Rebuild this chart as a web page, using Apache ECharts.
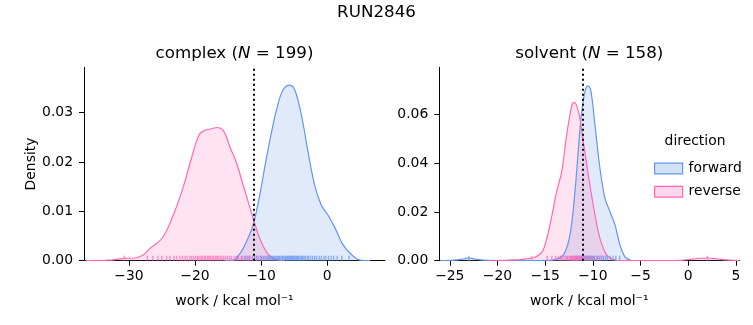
<!DOCTYPE html>
<html>
<head>
<meta charset="utf-8">
<script src="https://cdn.jsdelivr.net/npm/echarts@6/dist/echarts.min.js"></script>
<style>html,body{margin:0;padding:0;background:#fff}#c{width:753px;height:325px}</style>
</head>
<body>
<div id="c"></div>
<script>
// ---- data ----
const panelTitles = ['complex', 'solvent'];
const panelN = [199, 158];
const dottedX = [-11.1, -11.1];

// complex, forward KDE
const cfX = [-15.5,-14.2,-13.5,-12.7,-12.0,-11.2,-10.2,-9.2,-8.2,-7.2,-6.5,-5.7,-4.9,-3.9,-2.9,-1.9,-0.9,0.1,1.2,2.4,3.7,5.0,6.5];
const cfD = [0,0.0001,0.0009,0.0025,0.0045,0.0072,0.0133,0.0208,0.0275,0.0329,0.0350,0.0356,0.0346,0.0295,0.0221,0.0153,0.0113,0.0093,0.0066,0.0032,0.0012,0.0001,0];
// complex, reverse KDE
const crX = [-36.5,-33,-31.8,-30.7,-29.3,-27.8,-26.8,-25.0,-23.7,-22.0,-20.7,-19.4,-18.4,-17.6,-16.7,-15.65,-14.7,-13.7,-12.7,-11.2,-10.2,-9.2,-8.2,-7.2,-6.5];
const crD = [0,0.0001,0.0003,0.0005,0.0005,0.0012,0.0025,0.0045,0.0079,0.014,0.020,0.0255,0.0265,0.0267,0.027,0.0262,0.023,0.0197,0.0153,0.0086,0.0045,0.0018,0.0005,0.0001,0];
// solvent, forward KDE
const sfX = [-26,-24.5,-23.5,-23.0,-22.5,-21.5,-20,-16,-14.8,-14.15,-13.1,-12.4,-11.88,-11.46,-11.17,-10.83,-10.55,-10.23,-9.78,-9.26,-8.73,-8.2,-7.68,-7.16,-6.64,-6.1,-5.4];
const sfD = [0,0.0002,0.0008,0.0011,0.0008,0.0002,0,0,0.0001,0.0003,0.0023,0.0106,0.0284,0.0489,0.0612,0.0695,0.0719,0.0702,0.0558,0.038,0.0256,0.0201,0.0147,0.0065,0.0016,0.0003,0];
// solvent, reverse KDE
const srX = [-21,-19.5,-18.5,-17.6,-16.8,-16.25,-15.7,-15.2,-14.5,-13.8,-13.27,-12.75,-12.2,-11.98,-11.5,-11.0,-10.48,-9.78,-9.26,-8.55,-7.7,-7.0,-2,-1,0,1,2,3,4,5.3];
const srD = [0,0.0001,0.0003,0.0005,0.0009,0.0012,0.0022,0.0044,0.0147,0.0284,0.0366,0.0517,0.064,0.0651,0.0612,0.0489,0.0352,0.0188,0.0092,0.0023,0.0003,0,0,0.0001,0.0005,0.0009,0.0011,0.0008,0.0003,0];

// rug samples
const cfRug = [-13.6,-12.9,-12.4,-12.0,-11.7,-11.3,-11.0,-10.7,-10.4,-10.1,-9.9,-9.6,-9.4,-9.1,-8.9,-8.7,-8.5,-8.3,-8.1,-7.9,-7.7,-7.5,-7.3,-7.2,-7.0,-6.8,-6.7,-6.5,-6.3,-6.2,-6.0,-5.9,-5.7,-5.6,-5.4,-5.3,-5.1,-5.0,-4.8,-4.6,-4.5,-4.3,-4.1,-3.9,-3.7,-3.5,-3.3,-3.0,-2.8,-2.5,-2.2,-1.9,-1.6,-1.2,-0.9,-0.5,-0.2,0.2,0.6,1.0,1.5,2.2,3.3];
const crRug = [-30.7,-27.2,-26.4,-25.6,-25.0,-24.3,-23.8,-23.2,-22.8,-22.3,-21.9,-21.5,-21.2,-20.8,-20.5,-20.2,-19.9,-19.6,-19.4,-19.1,-18.9,-18.6,-18.4,-18.1,-17.9,-17.7,-17.4,-17.2,-16.9,-16.7,-16.5,-16.2,-16.0,-15.7,-15.4,-15.1,-14.8,-14.5,-14.1,-13.8,-13.4,-13.0,-12.6,-12.2,-11.8,-11.3,-10.7,-9.9,-9.1];
const sfRug = [-23.0,-13.4,-12.7,-12.2,-11.9,-11.7,-11.5,-11.3,-11.2,-11.0,-10.9,-10.8,-10.7,-10.6,-10.5,-10.4,-10.3,-10.2,-10.1,-10.0,-9.9,-9.8,-9.6,-9.5,-9.3,-9.1,-8.9,-8.7,-8.5,-8.2,-7.9,-7.6,-7.2];
const srRug = [-16.4,-14.8,-14.3,-13.9,-13.6,-13.3,-13.1,-12.9,-12.7,-12.5,-12.4,-12.3,-12.2,-12.1,-12.0,-11.9,-11.8,-11.7,-11.6,-11.5,-11.4,-11.2,-11.1,-10.9,-10.7,-10.5,-10.2,-9.9,-9.5,-9.1,2.0];

// axes ticks
const xTicks = [[-30,-20,-10,0],[-25,-20,-15,-10,-5,0,5]];
const yTicks = [[0,0.01,0.02,0.03],[0,0.02,0.04,0.06]];
const xRange = [[-36.8,8.75],[-26.1,5.35]];
const yMax = [0.0392,0.0795];

// ---- chart ----
const FONT = 'DejaVu Sans';
const FS = 13.9, FT = 16.7;
const BLUE = '#6495ED', PINK = '#FF69B4';
const BLUE_F = 'rgba(100,149,237,0.28)', PINK_F = 'rgba(255,105,180,0.27)';
const minus = s => String(s).replace(/-/g, '\u2212');

const grids = [
  {left: 84, top: 67.3, width: 301, height: 193.4},
  {left: 439.3, top: 67.3, width: 300, height: 193.4}
];

const xAxes = [0,1].map(i => ({
  type: 'value', gridIndex: i, min: xRange[i][0], max: xRange[i][1],
  splitLine: {show: false},
  axisLine: {show: true, onZero: false, lineStyle: {color: '#000', width: 1}},
  axisTick: {show: true, length: 5, customValues: xTicks[i], lineStyle: {color: '#000', width: 1}},
  axisLabel: {customValues: xTicks[i], formatter: v => minus(v), color: '#000', fontFamily: FONT, fontSize: FS, margin: 9},
  name: 'work / kcal mol\u207B\u00B9', nameLocation: 'middle', nameGap: 34,
  nameTextStyle: {color: '#000', fontFamily: FONT, fontSize: FS}
}));
const yAxes = [0,1].map(i => ({
  type: 'value', gridIndex: i, min: 0, max: yMax[i],
  splitLine: {show: false},
  axisLine: {show: true, onZero: false, lineStyle: {color: '#000', width: 1}},
  axisTick: {show: true, length: 5, customValues: yTicks[i], lineStyle: {color: '#000', width: 1}},
  axisLabel: {customValues: yTicks[i], formatter: v => v.toFixed(2), color: '#000', fontFamily: FONT, fontSize: FS, margin: 11},
  name: i === 0 ? 'Density' : '', nameLocation: 'middle', nameGap: 44,
  nameTextStyle: {color: '#000', fontFamily: FONT, fontSize: FS}
}));

function kde(name, xs, ds, gi, line, fill) {
  return {
    type: 'line', name: name, xAxisIndex: gi, yAxisIndex: gi,
    data: xs.map((x, k) => [x, ds[k]]),
    smooth: 0.35, showSymbol: false, symbol: 'none',
    lineStyle: {color: line, width: 1.2},
    itemStyle: {color: line},
    areaStyle: {color: fill, origin: 'start'},
    z: 2
  };
}
function rug(name, vals, gi, color) {
  return {
    type: 'scatter', name: name, xAxisIndex: gi, yAxisIndex: gi,
    data: vals.map(v => [v, 0]),
    symbol: 'rect', symbolSize: [1.4, 5], symbolOffset: [0, -2.5],
    itemStyle: {color: color, opacity: 0.7}, z: 3, silent: true
  };
}
function dotted(gi) {
  return {
    type: 'line', name: '_dg' + gi, xAxisIndex: gi, yAxisIndex: gi, data: [],
    markLine: {silent: true, symbol: 'none', label: {show: false}, animation: false,
      lineStyle: {type: [2, 3], color: '#000', width: 2}, data: [{xAxis: dottedX[gi]}]},
    z: 5
  };
}

const series = [
  kde('forward', cfX, cfD, 0, BLUE, BLUE_F),
  kde('reverse', crX, crD, 0, PINK, PINK_F),
  rug('forward_rug', cfRug, 0, BLUE),
  rug('reverse_rug', crRug, 0, PINK),
  dotted(0),
  kde('forward', sfX, sfD, 1, BLUE, BLUE_F),
  kde('reverse', srX, srD, 1, PINK, PINK_F),
  rug('forward_rug', sfRug, 1, BLUE),
  rug('reverse_rug', srRug, 1, PINK),
  dotted(1)
];

function titleText(i, cx) {
  return {
    type: 'text', x: cx, y: 54,
    style: {
      text: '{a|' + panelTitles[i] + ' (}{i|N}{a| = ' + panelN[i] + ')}',
      align: 'center', verticalAlign: 'middle',
      rich: {
        a: {fontFamily: FONT, fontSize: FT, fill: '#000'},
        i: {fontFamily: FONT, fontSize: FT, fontStyle: 'italic', fill: '#000'}
      }
    }
  };
}

const option = {
  animation: false,
  backgroundColor: '#fff',
  grid: grids,
  xAxis: xAxes,
  yAxis: yAxes,
  series: series,
  legend: {
    left: 649, top: 156.5, orient: 'vertical', itemWidth: 28, itemHeight: 10.7, itemGap: 9.3,
    selectedMode: false,
    textStyle: {fontFamily: FONT, fontSize: FS, color: '#000', padding: [0, 0, 0, 1]},
    data: [
      {name: 'forward', icon: 'rect', itemStyle: {color: BLUE_F, borderColor: BLUE, borderWidth: 1.2}, lineStyle: {opacity: 0}},
      {name: 'reverse', icon: 'rect', itemStyle: {color: PINK_F, borderColor: PINK, borderWidth: 1.2}, lineStyle: {opacity: 0}}
    ]
  },
  graphic: [
    {type: 'text', x: 376.5, y: 13, style: {text: 'RUN2846', align: 'center', verticalAlign: 'middle', fontFamily: FONT, fontSize: FT, fill: '#000'}},
    titleText(0, 234.5),
    titleText(1, 589.3),
    {type: 'text', x: 695, y: 141.5, style: {text: 'direction', align: 'center', verticalAlign: 'middle', fontFamily: FONT, fontSize: FS, fill: '#000'}}
  ]
};

const chart = echarts.init(document.getElementById('c'), null, {renderer: 'canvas'});
chart.setOption(option);
</script>
</body>
</html>
